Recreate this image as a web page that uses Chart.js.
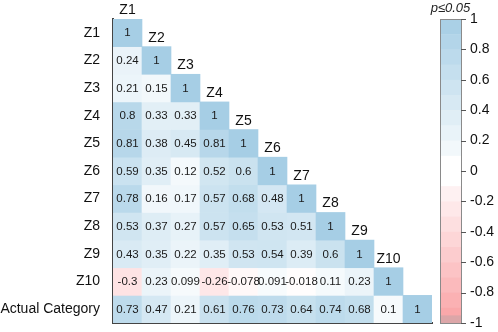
<!DOCTYPE html>
<html>
<head>
<meta charset="utf-8">
<script src="https://cdn.jsdelivr.net/npm/chart.js@4.4.1/dist/chart.umd.min.js"></script>
<style>
  html, body { margin: 0; padding: 0; background: #fff; }
  #wrap { width: 498px; height: 332px; }
</style>
</head>
<body>
<div id="wrap"><canvas id="corrChart"></canvas></div>
<script>
// variable names (rows top -> bottom, columns left -> right)
const varLabels = ['Z1', 'Z2', 'Z3', 'Z4', 'Z5', 'Z6', 'Z7', 'Z8', 'Z9', 'Z10', 'Actual Category'];
// column titles written above the diagonal
const colTitles = ['Z1', 'Z2', 'Z3', 'Z4', 'Z5', 'Z6', 'Z7', 'Z8', 'Z9', 'Z10', ''];

// lower triangle of the correlation matrix, one array per row
const rowZ1 = [1];
const rowZ2 = [0.24, 1];
const rowZ3 = [0.21, 0.15, 1];
const rowZ4 = [0.8, 0.33, 0.33, 1];
const rowZ5 = [0.81, 0.38, 0.45, 0.81, 1];
const rowZ6 = [0.59, 0.35, 0.12, 0.52, 0.6, 1];
const rowZ7 = [0.78, 0.16, 0.17, 0.57, 0.68, 0.48, 1];
const rowZ8 = [0.53, 0.37, 0.27, 0.57, 0.65, 0.53, 0.51, 1];
const rowZ9 = [0.43, 0.35, 0.22, 0.35, 0.53, 0.54, 0.39, 0.6, 1];
const rowZ10 = [-0.3, 0.23, 0.099, -0.26, -0.078, 0.091, -0.018, 0.11, 0.23, 1];
const rowActual = [0.73, 0.47, 0.21, 0.61, 0.76, 0.73, 0.64, 0.74, 0.68, 0.1, 1];
const matrixRows = [rowZ1, rowZ2, rowZ3, rowZ4, rowZ5, rowZ6, rowZ7, rowZ8, rowZ9, rowZ10, rowActual];

// colour bar ticks
const cbTicks = [1, 0.8, 0.6, 0.4, 0.2, 0, -0.2, -0.4, -0.6, -0.8, -1];

const FONT = "'Liberation Sans', Arial, sans-serif";
const BLUE = [166, 206, 229];
const RED = [250, 163, 166];

function corrColor(v) {
    const t = Math.min(1, Math.abs(v));
    const c = v >= 0 ? BLUE : RED;
    const r = Math.round(255 + (c[0] - 255) * t);
    const g = Math.round(255 + (c[1] - 255) * t);
    const b = Math.round(255 + (c[2] - 255) * t);
    return `rgb(${r},${g},${b})`;
}

// one dataset per row, each cell a floating bar spanning [row, row + 1]
const datasets = matrixRows.map((row, i) => ({
    label: varLabels[i],
    data: varLabels.map((_, j) => (j < row.length ? [i, i + 1] : null)),
    backgroundColor: varLabels.map((_, j) => (j < row.length ? corrColor(row[j]) : 'rgba(0,0,0,0)')),
    borderWidth: 0,
    barPercentage: 1,
    categoryPercentage: 1,
    grouped: false,
    yAxisID: 'y'
}));

const cellPlugin = {
    id: 'cellPlugin',
    afterDatasetsDraw(chart) {
        const ctx = chart.ctx;
        ctx.save();
        // values in cells
        ctx.font = `11.5px ${FONT}`;
        ctx.fillStyle = '#1a1a1a';
        ctx.textAlign = 'center';
        ctx.textBaseline = 'middle';
        matrixRows.forEach((row, i) => {
            const meta = chart.getDatasetMeta(i);
            row.forEach((v, j) => {
                const el = meta.data[j];
                ctx.fillText(String(v), el.x, (el.y + el.base) / 2 + 0.5);
            });
        });
        // column titles above the diagonal cells
        ctx.font = `14px ${FONT}`;
        ctx.fillStyle = '#111';
        ctx.textBaseline = 'alphabetic';
        colTitles.forEach((t, j) => {
            if (!t) return;
            const el = chart.getDatasetMeta(j).data[j];
            ctx.fillText(t, el.x, Math.min(el.y, el.base) - 5);
        });

        // colour bar drawn against the cb scale
        const cb = chart.scales.cb;
        const x0 = cb.left + 8;
        const w = 21;
        const steps = 20;
        for (let k = 0; k < steps; k++) {
            const hi = 1 - k * (2 / steps);
            const lo = hi - 2 / steps;
            const mid = (hi + lo) / 2;
            const yTop = cb.getPixelForValue(hi);
            const yBot = cb.getPixelForValue(lo);
            ctx.fillStyle = Math.abs(mid) < 0.1 ? '#ffffff' : corrColor(mid);
            ctx.fillRect(x0, yTop, w, yBot - yTop + 0.5);
        }
        // darker band at the very bottom
        const yb1 = cb.getPixelForValue(-0.95);
        const yb2 = cb.getPixelForValue(-1);
        ctx.fillStyle = '#dca6a8';
        ctx.fillRect(x0, yb1, w, yb2 - yb1);
        ctx.strokeStyle = '#8a8a8a';
        ctx.lineWidth = 1;
        const yT = cb.getPixelForValue(1);
        const yB = cb.getPixelForValue(-1);
        ctx.strokeRect(x0 + 0.5, yT + 0.5, w, yB - yT);
        ctx.strokeStyle = '#555';
        cbTicks.forEach(v => {
            const y = Math.round(cb.getPixelForValue(v)) + 0.5;
            ctx.beginPath();
            ctx.moveTo(x0 + w, y);
            ctx.lineTo(x0 + w + 5, y);
            ctx.stroke();
        });
        // significance note
        ctx.font = `italic 13px ${FONT}`;
        ctx.fillStyle = '#222';
        ctx.textAlign = 'center';
        ctx.textBaseline = 'middle';
        ctx.fillText('p\u22640.05', x0 + w / 2, 8);
        ctx.restore();
    }
};

new Chart(document.getElementById('corrChart'), {
    type: 'bar',
    data: { labels: varLabels, datasets: datasets },
    options: {
        responsive: true,
        maintainAspectRatio: false,
        animation: false,
        layout: { padding: { top: 19, bottom: 9, left: 0, right: 0 } },
        plugins: {
            legend: { display: false },
            tooltip: { enabled: false }
        },
        scales: {
            x: {
                type: 'category',
                grid: { display: false },
                ticks: { display: false },
                border: { display: true, color: '#444', width: 2 },
                afterFit: s => { s.height = 0; }
            },
            y: {
                type: 'linear',
                position: 'left',
                min: 0,
                max: 11,
                reverse: true,
                grid: { display: false },
                border: { display: true, color: '#444', width: 2 },
                afterBuildTicks: axis => {
                    axis.ticks = varLabels.map((_, i) => ({ value: i + 0.5 }));
                },
                ticks: {
                    autoSkip: false,
                    padding: 5,
                    color: '#111',
                    font: { family: FONT, size: 14 },
                    callback: (v, i) => varLabels[i]
                },
                afterFit: s => { s.width = 113; s.paddingTop = 0; s.paddingBottom = 0; }
            },
            cb: {
                type: 'linear',
                position: 'right',
                min: -1,
                max: 1,
                grid: { display: false, drawTicks: false },
                border: { display: false },
                afterBuildTicks: axis => {
                    axis.ticks = cbTicks.map(v => ({ value: v }));
                },
                ticks: {
                    autoSkip: false,
                    padding: 38,
                    color: '#111',
                    font: { family: FONT, size: 14 },
                    callback: v => String(Math.round(v * 10) / 10)
                },
                afterFit: s => { s.width = 66; s.paddingTop = 0; s.paddingBottom = 0; }
            }
        }
    },
    plugins: [cellPlugin]
});
</script>
</body>
</html>
